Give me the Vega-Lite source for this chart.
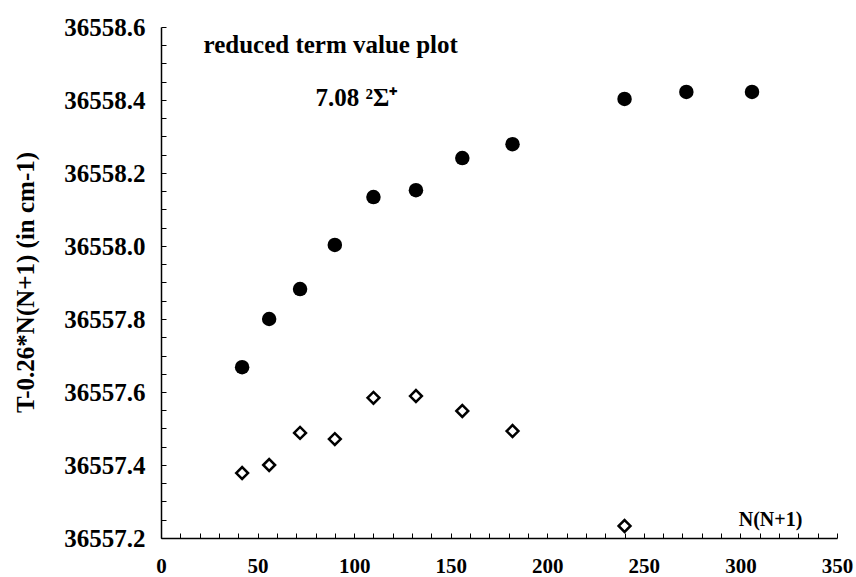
{
  "$schema": "https://vega.github.io/schema/vega-lite/v6.json",
  "width": 676,
  "height": 511,
  "autosize": "none",
  "padding": {"left": 161, "top": 27, "right": 19, "bottom": 39},
  "background": "white",
  "config": {
    "view": {"stroke": null},
    "font": "Liberation Serif",
    "axis": {
      "grid": false, "domainColor": "black", "domainWidth": 1.5,
      "tickColor": "black", "tickSize": -5, "tickWidth": 1,
      "labelFont": "Liberation Serif", "labelFontWeight": "bold",
      "labelColor": "black", "labelFlush": false, "labelOverlap": false,
      "titleFont": "Liberation Serif", "titleFontWeight": "bold", "titleColor": "black"
    },
    "axisX": {"labelFontSize": 21, "labelPadding": 22, "titleFontSize": 20},
    "axisY": {"labelFontSize": 25, "labelPadding": 21, "titleFontSize": 25}
  },
  "data": {
    "values": [
      {"n": 42, "t": 36557.668, "series": "upper"},
      {"n": 56, "t": 36557.800, "series": "upper"},
      {"n": 72, "t": 36557.882, "series": "upper"},
      {"n": 90, "t": 36558.003, "series": "upper"},
      {"n": 110, "t": 36558.134, "series": "upper"},
      {"n": 132, "t": 36558.153, "series": "upper"},
      {"n": 156, "t": 36558.241, "series": "upper"},
      {"n": 182, "t": 36558.279, "series": "upper"},
      {"n": 240, "t": 36558.403, "series": "upper"},
      {"n": 272, "t": 36558.422, "series": "upper"},
      {"n": 306, "t": 36558.422, "series": "upper"},
      {"n": 42, "t": 36557.378, "series": "lower"},
      {"n": 56, "t": 36557.400, "series": "lower"},
      {"n": 72, "t": 36557.488, "series": "lower"},
      {"n": 90, "t": 36557.471, "series": "lower"},
      {"n": 110, "t": 36557.584, "series": "lower"},
      {"n": 132, "t": 36557.589, "series": "lower"},
      {"n": 156, "t": 36557.548, "series": "lower"},
      {"n": 182, "t": 36557.493, "series": "lower"},
      {"n": 240, "t": 36557.233, "series": "lower"}
    ]
  },
  "layer": [
    {
      "encoding": {
        "x": {
          "field": "n", "type": "quantitative",
          "scale": {"domain": [0, 350], "nice": false, "zero": false},
          "axis": {
            "values": [0,10,20,30,40,50,60,70,80,90,100,110,120,130,140,150,160,170,180,190,200,210,220,230,240,250,260,270,280,290,300,310,320,330,340,350],
            "labelExpr": "datum.value % 50 === 0 ? format(datum.value, 'd') : ''",
            "title": "N(N+1)", "titleX": 609, "titleY": -13, "titleAlign": "center", "titleBaseline": "alphabetic"
          }
        },
        "y": {
          "field": "t", "type": "quantitative",
          "scale": {"domain": [36557.2, 36558.6], "nice": false, "zero": false},
          "axis": {
            "values": [36557.2,36557.25,36557.3,36557.35,36557.4,36557.45,36557.5,36557.55,36557.6,36557.65,36557.7,36557.75,36557.8,36557.85,36557.9,36557.95,36558.0,36558.05,36558.1,36558.15,36558.2,36558.25,36558.3,36558.35,36558.4,36558.45,36558.5,36558.55,36558.6],
            "labelExpr": "abs(datum.value*5 - round(datum.value*5)) < 0.01 ? format(datum.value, '.1f') : ''",
            "title": "T-0.26*N(N+1) (in cm-1)", "titleX": -136, "titleY": 255, "titleAlign": "center", "titleBaseline": "middle", "titleAngle": 270
          }
        }
      },
      "layer": [
        {
          "transform": [{"filter": "datum.series === 'upper'"}],
          "mark": {"type": "point", "shape": "circle", "filled": true, "size": 210, "color": "black", "opacity": 1}
        },
        {
          "transform": [{"filter": "datum.series === 'lower'"}],
          "mark": {"type": "point", "shape": "diamond", "filled": false, "size": 140, "strokeWidth": 2.5, "color": "black", "opacity": 1}
        }
      ]
    },
    {
      "data": {"values": [{"label": "annotation"}]},
      "encoding": {
        "x": {
          "datum": 22, "type": "quantitative",
          "axis": {
            "values": [0,10,20,30,40,50,60,70,80,90,100,110,120,130,140,150,160,170,180,190,200,210,220,230,240,250,260,270,280,290,300,310,320,330,340,350],
            "labelExpr": "datum.value % 50 === 0 ? format(datum.value, 'd') : ''",
            "title": "N(N+1)", "titleX": 609, "titleY": -13, "titleAlign": "center", "titleBaseline": "alphabetic"
          }
        },
        "y": {
          "datum": 36558.53, "type": "quantitative",
          "axis": {
            "values": [36557.2,36557.25,36557.3,36557.35,36557.4,36557.45,36557.5,36557.55,36557.6,36557.65,36557.7,36557.75,36557.8,36557.85,36557.9,36557.95,36558.0,36558.05,36558.1,36558.15,36558.2,36558.25,36558.3,36558.35,36558.4,36558.45,36558.5,36558.55,36558.6],
            "labelExpr": "abs(datum.value*5 - round(datum.value*5)) < 0.01 ? format(datum.value, '.1f') : ''",
            "title": "T-0.26*N(N+1) (in cm-1)", "titleX": -136, "titleY": 255, "titleAlign": "center", "titleBaseline": "middle", "titleAngle": 270
          }
        }
      },
      "layer": [
        {
          "mark": {"type": "text", "align": "left", "baseline": "alphabetic", "font": "Liberation Serif", "fontWeight": "bold", "fontSize": 25, "color": "black"},
          "encoding": {"text": {"value": "reduced term value plot"}}
        },
        {
          "mark": {"type": "text", "align": "left", "baseline": "alphabetic", "font": "Liberation Serif", "fontWeight": "bold", "fontSize": 25, "color": "black"},
          "encoding": {
            "x": {"datum": 80, "type": "quantitative"},
            "y": {"datum": 36558.384, "type": "quantitative"},
            "text": {"value": "7.08 ²Σ⁺"}
          }
        }
      ]
    }
  ]
}
